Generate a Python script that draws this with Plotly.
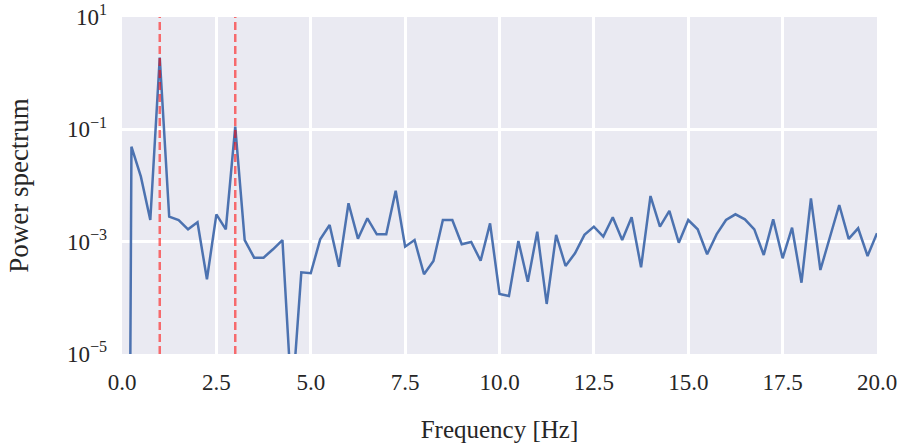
import plotly.graph_objects as go

# Frequency bins (Hz)
freq = [i * 0.25 for i in range(81)]

# Power spectrum values
power = [
    3e-34, 0.049, 0.0144, 0.00243, 1.9, 0.00279, 0.00243, 0.00166, 0.00221,
    0.000214, 0.00307, 0.00166, 0.112, 0.00107, 0.000519, 0.000519, 0.000731,
    0.00107, 1.3e-6, 0.000285, 0.000274, 0.00110, 0.00198, 0.000358, 0.00482,
    0.00113, 0.00261, 0.00135, 0.00135, 0.00809, 0.000815, 0.00107, 0.000263,
    0.000453, 0.00243, 0.00243, 0.000898, 0.000986, 0.000458, 0.00212,
    0.000117, 0.000108, 0.00103, 0.000194, 0.00151, 0.0000778, 0.00132,
    0.000369, 0.000621, 0.00132, 0.00185, 0.00123, 0.00272, 0.00107, 0.00272,
    0.000350, 0.0065, 0.00185, 0.00352, 0.00096, 0.00243, 0.00166, 0.000596,
    0.00135, 0.00243, 0.00307, 0.00250, 0.00166, 0.000579, 0.00250, 0.000506,
    0.00177, 0.000186, 0.00592, 0.000313, 0.00121, 0.0045, 0.00112, 0.00173,
    0.000556, 0.00141,
]

# Marked signal frequencies
marker_freqs = [1.0, 3.0]

x_ticks = [0, 2.5, 5, 7.5, 10, 12.5, 15, 17.5, 20]
x_ticktext = ["0.0", "2.5", "5.0", "7.5", "10.0", "12.5", "15.0", "17.5", "20.0"]
y_ticks = [1e-5, 1e-3, 1e-1, 1e1]
y_ticktext = ["10<sup>−5</sup>", "10<sup>−3</sup>", "10<sup>−1</sup>", "10<sup>1</sup>"]

font_family = "Liberation Serif"

fig = go.Figure()
fig.add_trace(go.Scatter(
    x=freq, y=power, mode="lines",
    line=dict(color="#4C72B0", width=2.5),
    showlegend=False, hoverinfo="skip",
))

for f in marker_freqs:
    fig.add_shape(
        type="line", xref="x", yref="paper", x0=f, x1=f, y0=0, y1=1,
        line=dict(color="rgba(255,0,0,0.55)", width=2.5, dash="8px,4px"),
        layer="above",
    )

fig.update_layout(
    width=905, height=443,
    margin=dict(l=122, r=28, t=17, b=89),
    paper_bgcolor="white",
    plot_bgcolor="#EAEAF2",
    font=dict(family=font_family, size=23, color="#262626"),
)
fig.update_xaxes(
    range=[0, 20], tickvals=x_ticks, ticktext=x_ticktext,
    showgrid=True, gridcolor="white", gridwidth=2.5, automargin=False,
    zeroline=False, showline=False, ticks="", ticklabelstandoff=12,
    tickfont=dict(family=font_family, size=23, color="#262626"),
    title=dict(text="Frequency [Hz]", standoff=26,
               font=dict(family=font_family, size=25, color="#262626")),
)
fig.update_yaxes(
    type="log", range=[-5, 1], tickvals=y_ticks, ticktext=y_ticktext,
    showgrid=True, gridcolor="white", gridwidth=2.5, automargin=False,
    zeroline=False, showline=False, ticks="", ticklabelstandoff=14,
    tickfont=dict(family=font_family, size=23, color="#262626"),
    title=dict(text="Power spectrum", standoff=30,
               font=dict(family=font_family, size=27, color="#262626")),
)

fig.write_html("out.html")
